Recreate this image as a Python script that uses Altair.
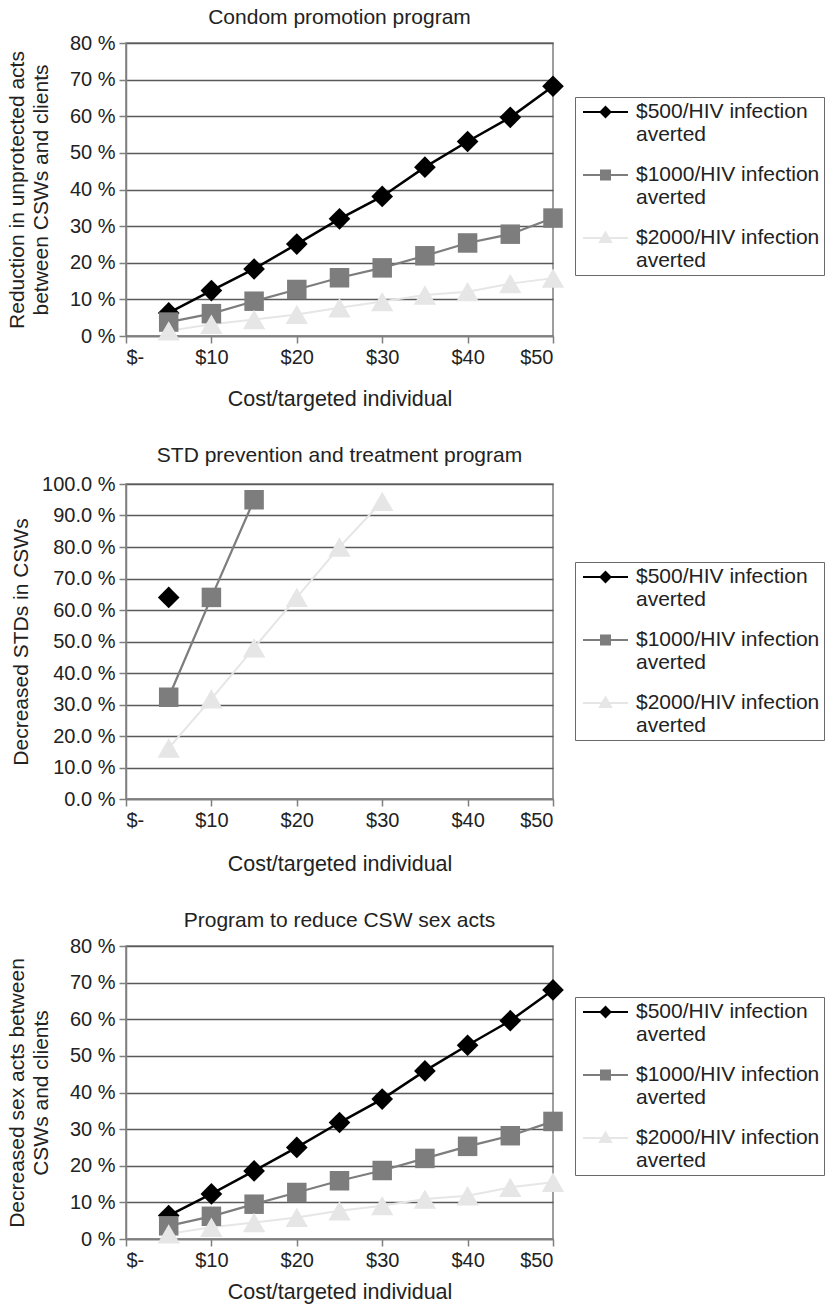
import altair as alt
import pandas as pd

FONT = "Liberation Sans"

# ---------------- data ----------------
series = ["$500/HIV infection averted", "$1000/HIV infection averted", "$2000/HIV infection averted"]
series_colors = ["#000000", "#7d7d7d", "#e6e6e6"]
line_widths = [2.5, 2.0, 2.0]
x_ticks = [0, 10, 20, 30, 40, 50]

# Condom promotion program (% reduction)
condom_cost = [5, 10, 15, 20, 25, 30, 35, 40, 45, 50]
condom_500 = [6.3, 12.4, 18.3, 25.1, 32.0, 38.1, 46.1, 53.1, 59.7, 68.2]
condom_1000 = [3.8, 6.1, 9.5, 12.7, 15.9, 18.6, 21.9, 25.4, 27.8, 32.2]
condom_2000 = [1.4, 3.2, 4.5, 5.9, 7.7, 9.4, 11.2, 12.1, 14.3, 15.8]

# STD prevention and treatment program (% decreased STDs)
std_cost_500 = [5]
std_500 = [64.0]
std_cost_1000 = [5, 10, 15]
std_1000 = [32.3, 64.0, 95.0]
std_cost_2000 = [5, 10, 15, 20, 25, 30]
std_2000 = [16.2, 31.8, 48.0, 64.0, 80.0, 94.5]

# Program to reduce CSW sex acts (% decreased sex acts)
sex_cost = [5, 10, 15, 20, 25, 30, 35, 40, 45, 50]
sex_500 = [6.4, 12.3, 18.6, 25.0, 31.8, 38.2, 45.9, 52.9, 59.6, 68.0]
sex_1000 = [3.6, 6.2, 9.5, 12.7, 15.9, 18.7, 22.0, 25.3, 28.2, 32.1]
sex_2000 = [1.4, 3.2, 4.5, 5.9, 7.7, 9.1, 10.9, 11.8, 14.1, 15.5]

# ---------------- styling helpers ----------------
marker_shapes = ["diamond", "square", "triangle-up"]
marker_sizes = [470, 380, 500]

# legend symbols: short line with the marker on it (units of 10 px)
legend_paths = [
    "M-2.25,0H2.25M0,-0.5L0.5,0L0,0.5L-0.5,0Z",
    "M-2.25,0H2.25M-0.45,-0.45H0.45V0.45H-0.45Z",
    "M-2.25,0H2.25M0,-0.55L0.55,0.4L-0.55,0.4Z",
]


def make_df(pairs):
    rows = []
    for name, xs, ys in pairs:
        for xv, yv in zip(xs, ys):
            rows.append({"series": name, "cost": xv, "value": yv})
    return pd.DataFrame(rows)


def panel(df, title, ytitle, ymax, ystep, ydec, height, legend_y, xtitle_pad, ytitle_pad, title_offset):
    color_scale = alt.Scale(domain=series, range=series_colors)
    if ydec:
        lab = "format(datum.value, '.1f') + ' %'"
    else:
        lab = "format(datum.value, '.0f') + ' %'"
    x = alt.X(
        "cost:Q",
        scale=alt.Scale(domain=[0, 50], nice=False, zero=True),
        axis=alt.Axis(
            values=x_ticks,
            labelExpr="datum.value == 0 ? '$-' : '$' + datum.value",
            title="Cost/targeted individual",
            titleFontSize=21.5,
            titleFontWeight="normal",
            titleFont=FONT,
            titleColor="#222222",
            titlePadding=xtitle_pad,
            labelFont=FONT,
            labelFontSize=20,
            labelColor="#222222",
            labelPadding=4,
            tickSize=7,
            tickColor="#7f7f7f",
            tickWidth=1.5,
            domainColor="#7f7f7f",
            domainWidth=1.5,
            grid=False,
        ),
    )
    y = alt.Y(
        "value:Q",
        scale=alt.Scale(domain=[0, ymax], nice=False),
        axis=alt.Axis(
            values=list(range(0, ymax + 1, ystep)),
            labelExpr=lab,
            title=ytitle,
            titleFontSize=21,
            titleFontWeight="normal",
            titleFont=FONT,
            titleColor="#222222",
            titlePadding=ytitle_pad,
            titleLineHeight=24,
            labelFont=FONT,
            labelFontSize=20,
            labelColor="#222222",
            labelPadding=4,
            tickSize=7,
            tickColor="#7f7f7f",
            tickWidth=1.5,
            domainColor="#7f7f7f",
            domainWidth=1.5,
            grid=True,
            gridColor="#5a5a5a",
            gridWidth=1.3,
        ),
    )
    base = alt.Chart(df)
    lines = base.mark_line().encode(
        x=x,
        y=y,
        color=alt.Color("series:N", scale=color_scale, legend=None),
        strokeWidth=alt.StrokeWidth("series:N", scale=alt.Scale(domain=series, range=line_widths), legend=None),
        detail="series:N",
    )
    point_layers = []
    for name, shp, sz in zip(series, marker_shapes, marker_sizes):
        point_layers.append(
            base.transform_filter(alt.datum.series == name)
            .mark_point(filled=True, opacity=1, shape=shp, size=sz)
            .encode(x=x, y=y, color=alt.Color("series:N", scale=color_scale, legend=None))
        )
    leg = dict(
        title=None,
        orient="none",
        legendX=449,
        legendY=legend_y,
        symbolSize=400,
        symbolStrokeWidth=2,
        symbolOpacity=1,
        symbolOffset=15.5,
        labelFont=FONT,
        labelFontSize=21,
        labelColor="#222222",
        labelOffset=19.5,
        labelLimit=400,
        labelExpr="[replace(datum.label, ' averted', ''), 'averted']",
        rowPadding=19,
        padding=4,
        strokeColor="#6a6a6a",
        fillColor="#ffffff",
    )
    legend_layer = base.transform_filter("false").mark_point(filled=True).encode(
        fill=alt.Fill("series:N", scale=alt.Scale(domain=series, range=series_colors), legend=alt.Legend(**leg)),
        stroke=alt.Stroke("series:N", scale=alt.Scale(domain=series, range=series_colors), legend=alt.Legend(**leg)),
        shape=alt.Shape("series:N", scale=alt.Scale(domain=series, range=legend_paths), legend=alt.Legend(**leg)),
    )
    return alt.layer(lines, *point_layers, legend_layer).properties(
        width=427,
        height=height,
        title=alt.TitleParams(title, font=FONT, fontSize=21, fontWeight="normal", color="#222222", offset=title_offset),
    )


df1 = make_df([(series[0], condom_cost, condom_500), (series[1], condom_cost, condom_1000), (series[2], condom_cost, condom_2000)])
df2 = make_df([(series[0], std_cost_500, std_500), (series[1], std_cost_1000, std_1000), (series[2], std_cost_2000, std_2000)])
df3 = make_df([(series[0], sex_cost, sex_500), (series[1], sex_cost, sex_1000), (series[2], sex_cost, sex_2000)])

p1 = panel(df1, "Condom promotion program", ["Reduction in unprotected acts", "between CSWs and clients"], 80, 10, False, 293, 54, 21, 18, 5)
p2 = panel(df2, "STD prevention and treatment program", "Decreased STDs in CSWs", 100, 10, True, 315, 78, 23, 10, 8)
p3 = panel(df3, "Program to reduce CSW sex acts", ["Decreased sex acts between", "CSWs and clients"], 80, 10, False, 293, 51, 11, 18, 5)

chart = (
    alt.vconcat(p1, p2, p3, spacing=33)
    .resolve_scale(fill="independent", stroke="independent", shape="independent")
    .resolve_legend(fill="independent", stroke="independent", shape="independent")
    .properties(background="#ffffff", padding={"left": 5, "top": 6, "right": 0, "bottom": 0})
    .configure_view(fill="#cbcbcb", stroke="#7f7f7f", strokeWidth=1.5)
)

chart.save("out.html", embed_options={"renderer": "svg", "actions": False})
